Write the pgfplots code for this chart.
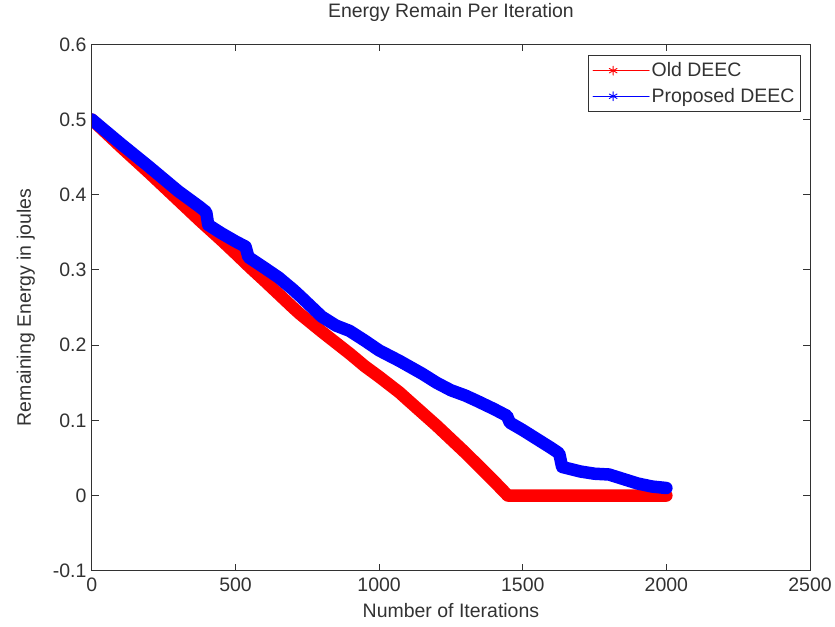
\documentclass[border=0pt]{standalone}
\usepackage{fontspec}
\setmainfont{Liberation Sans}
\usepackage{pgfplots}
\pgfplotsset{compat=1.18}
\definecolor{axgray}{RGB}{50,50,50}
\newcommand{\lblfont}{\fontsize{19.5}{23}\selectfont}
\begin{document}
\begin{tikzpicture}
\begin{axis}[
  scale only axis,
  width=719pt, height=527pt,
  xmin=0, xmax=2500, ymin=-0.1, ymax=0.6,
  xtick={0,500,1000,1500,2000,2500},
  xticklabels={0,500,1000,1500,2000,2500},
  ytick={-0.1,0,0.1,0.2,0.3,0.4,0.5,0.6},
  yticklabels={-0.1,0,0.1,0.2,0.3,0.4,0.5,0.6},
  tick align=inside, tick pos=both,
  major tick length=7pt,
  axis line style={axgray, line width=1pt},
  every tick/.style={axgray, line width=1pt},
  tick label style={font=\lblfont, text=axgray},
  xticklabel style={yshift=-4pt},
  yticklabel style={xshift=-2pt},
  title={Energy Remain Per Iteration},
  title style={font=\lblfont, text=axgray, at={(axis description cs:0.5,1.0398)}, anchor=base},
  xlabel={Number of Iterations},
  xlabel style={font=\lblfont, text=axgray, at={(axis description cs:0.5,-0.0892)}, anchor=base},
  ylabel={Remaining Energy in joules},
  ylabel style={font=\lblfont, text=axgray, at={(axis description cs:-0.0848,0.5)}, anchor=base},
  legend style={at={(axis description cs:1,1)}, anchor=north east, xshift=-9pt, yshift=-11pt,
    draw=axgray, line width=1pt, font=\lblfont, text=axgray, inner xsep=4pt, inner ysep=5pt,
    row sep=6pt, cells={anchor=west}},
  legend cell align=left,
]
\addplot[red, line width=12.5pt, line join=round, line cap=round,
  legend image code/.code={
    \draw[red, line width=1pt] (0pt,0pt) -- (56pt,0pt);
    \draw[red, line width=0.9pt] plot[mark=asterisk, mark size=4.5pt] coordinates {(20pt,0pt)};
  }] coordinates {
(0,0.500) (100,0.464) (200,0.429) (300,0.393) (375,0.366) (450,0.340)
(500,0.322) (549,0.304) (600,0.286) (650,0.268) (700,0.250) (723,0.242)
(800,0.218) (850,0.203) (900,0.188) (950,0.172) (1000,0.158) (1071,0.137)
(1100,0.127) (1150,0.110) (1200,0.093) (1250,0.075) (1300,0.057) (1350,0.038)
(1400,0.019) (1448,0.000) (1700,0.000) (2000,0.000)
};
\addlegendentry{Old DEEC}
\addplot[blue, line width=12.5pt, line join=round, line cap=round,
  legend image code/.code={
    \draw[blue, line width=1pt] (0pt,0pt) -- (56pt,0pt);
    \draw[blue, line width=0.9pt] plot[mark=asterisk, mark size=4.5pt] coordinates {(20pt,0pt)};
  }] coordinates {
(0,0.500) (100,0.468) (200,0.437) (300,0.405) (375,0.384) (398,0.377)
(405,0.360) (450,0.349) (500,0.338) (535,0.331) (545,0.317) (600,0.303)
(650,0.290) (700,0.274) (723,0.266) (800,0.238) (850,0.226) (897,0.219)
(950,0.206) (1000,0.193) (1071,0.179) (1150,0.162) (1200,0.150) (1250,0.140)
(1300,0.133) (1340,0.126) (1400,0.115) (1445,0.106) (1455,0.097) (1500,0.087)
(1550,0.075) (1600,0.063) (1627,0.056) (1637,0.038) (1700,0.032) (1750,0.029)
(1800,0.028) (1850,0.022) (1900,0.016) (1950,0.012) (2000,0.010)
};
\addlegendentry{Proposed DEEC}
\end{axis}
\path ([xshift=-92pt,yshift=-56pt]current axis.south west) -- ([xshift=24pt,yshift=40pt]current axis.north east);
\end{tikzpicture}
\end{document}
